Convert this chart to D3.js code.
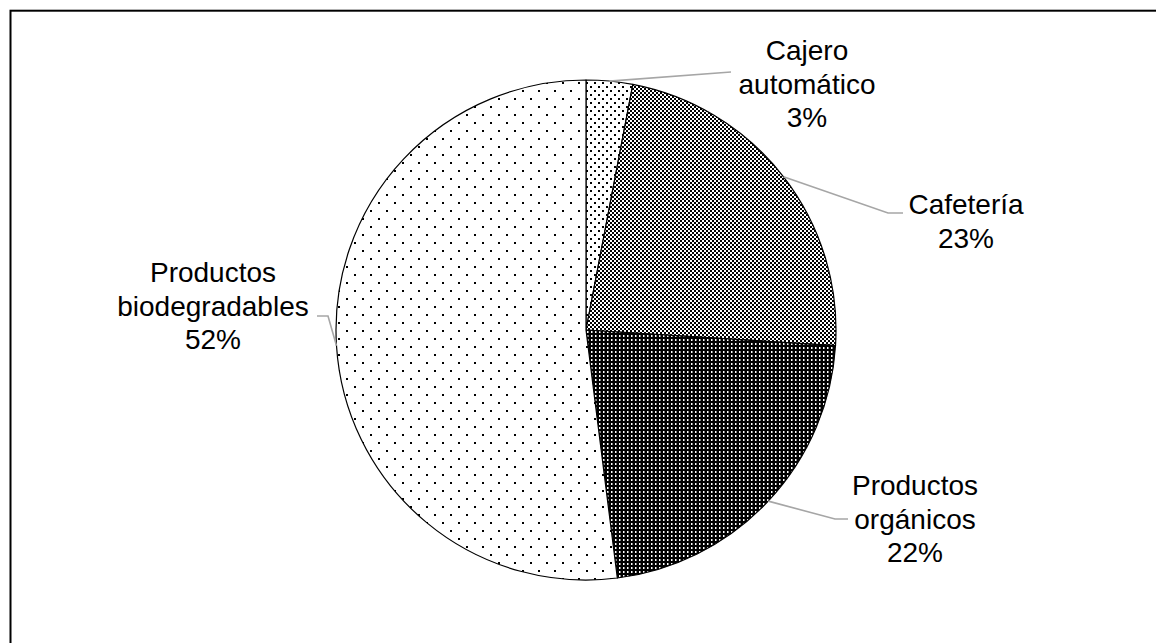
<!DOCTYPE html>
<html>
<head>
<meta charset="utf-8">
<script src="https://cdn.jsdelivr.net/npm/d3@7"></script>
<style>
  html, body { margin: 0; padding: 0; background: #fff; }
  svg { display: block; }
  text { font-family: "Liberation Sans", Arial, sans-serif; font-size: 28px; fill: #000; }
</style>
</head>
<body>
<svg id="chart" width="1156" height="643"></svg>
<script>
// Share of each category (percent)
const categories = ["Cajero automático", "Cafetería", "Productos orgánicos", "Productos biodegradables"];
const values = [3, 23, 22, 52];
// Label text lines (the last line is the percentage)
const labelLines = [
  ["Cajero", "automático"],
  ["Cafetería"],
  ["Productos", "orgánicos"],
  ["Productos", "biodegradables"]
];

const W = 1156, H = 643;
const cx = 586, cy = 330, R = 250;
const lineH = 33.5;

const svg = d3.select("#chart");
const defs = svg.append("defs");

// Fill patterns, one per slice
function pattern(id, size, bg, fg, rects) {
  const p = defs.append("pattern")
    .attr("id", id).attr("patternUnits", "userSpaceOnUse")
    .attr("width", size).attr("height", size);
  p.append("rect").attr("width", size).attr("height", size).attr("fill", bg);
  rects.forEach(r => p.append("rect")
    .attr("x", r[0]).attr("y", r[1]).attr("width", r[2]).attr("height", r[3]).attr("fill", fg));
}
pattern("p-cajero", 8, "#fff", "#000", [[0,0,2,2],[4,4,2,2]]);
pattern("p-cafe", 4, "#fff", "#000", [[0,0,2,2],[2,2,2,2]]);
pattern("p-organ", 4, "#000", "#fff", [[1,1,1.5,2]]);
pattern("p-bio", 16, "#fff", "#000", [[0,0,2,2],[8,8,2,2]]);
const fills = ["url(#p-cajero)", "url(#p-cafe)", "url(#p-organ)", "url(#p-bio)"];

// Chart frame
svg.append("rect")
  .attr("x", 10.5).attr("y", 10.7)
  .attr("width", 1300).attr("height", 800)
  .attr("fill", "none").attr("stroke", "#000").attr("stroke-width", 2);

const pie = d3.pie().sort(null).value(d => d)(values);
const arc = d3.arc().innerRadius(0).outerRadius(R);

const g = svg.append("g").attr("transform", `translate(${cx},${cy})`);
g.selectAll("path.slice")
  .data(pie)
  .join("path")
  .attr("class", "slice")
  .attr("d", arc)
  .attr("fill", (d, i) => fills[i])
  .attr("stroke", "#000")
  .attr("stroke-width", 1.2)
  .attr("stroke-linejoin", "round");

// Label placement (centre x, baseline of first line) and leader end points
const labelLayout = [
  { x: 807, y: 60,  leader: [[731, 72]] },
  { x: 966, y: 214, leader: [[888, 213], [903, 213]] },
  { x: 915, y: 495, leader: [[835, 519], [848, 519]] },
  { x: 213, y: 282, leader: [[328, 316], [317, 316]] }
];

pie.forEach((d, i) => {
  const mid = (d.startAngle + d.endAngle) / 2;
  const start = [cx + R * Math.sin(mid), cy - R * Math.cos(mid)];
  const pts = [start].concat(labelLayout[i].leader);
  svg.append("path")
    .attr("d", d3.line()(pts))
    .attr("fill", "none")
    .attr("stroke", "#a6a6a6")
    .attr("stroke-width", 1.6);

  const lines = labelLines[i].concat([d3.format(".0f")(d.data) + "%"]);
  const t = svg.append("text")
    .attr("text-anchor", "middle")
    .attr("x", labelLayout[i].x)
    .attr("y", labelLayout[i].y);
  lines.forEach((s, k) => {
    t.append("tspan")
      .attr("x", labelLayout[i].x)
      .attr("y", labelLayout[i].y + k * lineH)
      .text(s);
  });
});
</script>
</body>
</html>
